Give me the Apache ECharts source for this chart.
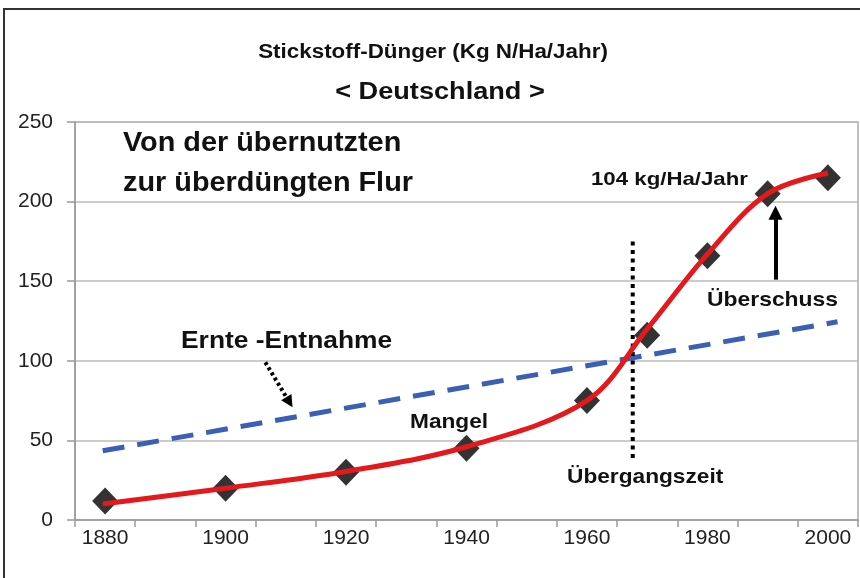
<!DOCTYPE html>
<html><head><meta charset="utf-8">
<script src="https://cdn.jsdelivr.net/npm/echarts@6/dist/echarts.min.js"></script>
<style>html,body{margin:0;padding:0;background:#fff}#c{width:860px;height:578px}</style>
</head><body><div id="c"></div>
<script>
// ---- data ----
const titleMain = 'Stickstoff-Dünger (Kg N/Ha/Jahr)';
const titleSub = '< Deutschland >';
const xLabelYears = [1880, 1900, 1920, 1940, 1960, 1980, 2000];
const xTickYears = [1875, 1885, 1895, 1905, 1915, 1925, 1935, 1945, 1955, 1965, 1975, 1985, 1995, 2005];
const yTicks = [0, 50, 100, 150, 200, 250];
// measured fertilizer points (diamonds)
const pointYears = [1880, 1900, 1920, 1940, 1960, 1970, 1980, 1990, 2000];
const pointValues = [12, 20, 30, 45, 75, 116, 166, 205, 215];
// red trend curve
const trendYears = [1879.6, 1900, 1920, 1940, 1960, 1970, 1980, 1990, 2000];
const trendValues = [10, 20, 30.5, 46, 75, 120, 167, 205, 218];
// harvest removal (dashed)
const harvestYears = [1879.6, 2001.6];
const harvestValues = [43.5, 124.5];
// transition line
const transitionYears = [1967.6, 1967.6];
const transitionValues = [175, 37];
// arrows
const surplusArrow = [[1991.3, 151], [1991.3, 193]];
const harvestArrow = [[1906.6, 99], [1910.6, 74]];

const chart = echarts.init(document.getElementById('c'));
const zip = (a, b) => a.map((v, i) => [v, b[i]]);
const FONT = '"Liberation Sans", Arial, sans-serif';

function txt(text, x, y, size, sx) {
  return {type: 'text', x: x, y: y, scaleX: sx, z: 50,
    style: {text: text, font: 'bold ' + size + 'px ' + FONT, fill: '#111', align: 'left', verticalAlign: 'middle'}};
}
function ctxt(text, cx, y, size, sx) {
  return {type: 'text', x: cx, y: y, scaleX: sx, z: 50,
    style: {text: text, font: 'bold ' + size + 'px ' + FONT, fill: '#111', align: 'center', verticalAlign: 'middle'}};
}

chart.setOption({
  animation: false,
  backgroundColor: '#fff',
  grid: {left: 75, right: 2, top: 122, bottom: 58, show: true, borderColor: '#aaa', borderWidth: 1.5},
  xAxis: {
    type: 'value', min: 1875, max: 2005,
    axisLine: {show: true, lineStyle: {color: '#999', width: 1.5}},
    axisTick: {show: true, length: 7, lineStyle: {color: '#999', width: 1.5}, customValues: xTickYears},
    axisLabel: {customValues: xLabelYears, formatter: v => String(v), fontFamily: FONT, fontSize: 21, color: '#222', margin: 8},
    splitLine: {show: false}
  },
  yAxis: {
    type: 'value', min: 0, max: 250, interval: 50,
    axisLine: {show: true, lineStyle: {color: '#999', width: 1.5}},
    axisTick: {show: true, length: 8, lineStyle: {color: '#999', width: 1.5}},
    axisLabel: {fontFamily: FONT, fontSize: 21, color: '#222', margin: 22},
    splitLine: {show: true, lineStyle: {color: '#bbb', width: 1.5}}
  },
  series: [
    {type: 'line', data: zip(harvestYears, harvestValues), symbol: 'none',
     lineStyle: {color: '#3a5fb5', width: 5, type: [22, 13]}, z: 2},
    {type: 'line', data: zip(transitionYears, transitionValues), symbol: 'none',
     lineStyle: {color: '#000', width: 4, type: [4, 4.5]}, z: 3},
    {type: 'scatter', data: zip(pointYears, pointValues), symbol: 'diamond', symbolSize: [26, 27],
     itemStyle: {color: '#333', opacity: 1}, z: 4},
    {type: 'line', data: zip(trendYears, trendValues), symbol: 'none', smooth: 0.35,
     lineStyle: {color: '#e3191c', width: 5}, z: 5},
    {type: 'lines', coordinateSystem: 'cartesian2d',
     data: [{coords: surplusArrow}], symbol: ['none', 'triangle'], symbolSize: [16, 14],
     lineStyle: {color: '#000', width: 4, opacity: 1}, z: 6},
    {type: 'lines', coordinateSystem: 'cartesian2d',
     data: [{coords: harvestArrow}], symbol: ['none', 'triangle'], symbolSize: [14, 12],
     lineStyle: {color: '#000', width: 4, type: [3, 3], opacity: 1}, z: 6}
  ],
  graphic: [
    {type: 'rect', shape: {x: 4, y: 9, width: 900, height: 700}, style: {fill: 'none', stroke: '#333', lineWidth: 2}, z: 100, silent: true},
    ctxt(titleMain, 433, 52, 20, 1.12),
    ctxt(titleSub, 440, 93, 23, 1.18),
    txt('Von der übernutzten', 123, 143, 28, 1.03),
    txt('zur überdüngten Flur', 123, 183, 28, 1.03),
    txt('104 kg/Ha/Jahr', 591, 180, 19, 1.17),
    txt('Überschuss', 707, 300, 21, 1.09),
    txt('Ernte -Entnahme', 181, 341, 24, 1.1),
    txt('Mangel', 410, 422, 21, 1.08),
    txt('Übergangszeit', 567, 477, 21, 1.08)
  ]
});
</script></body></html>
